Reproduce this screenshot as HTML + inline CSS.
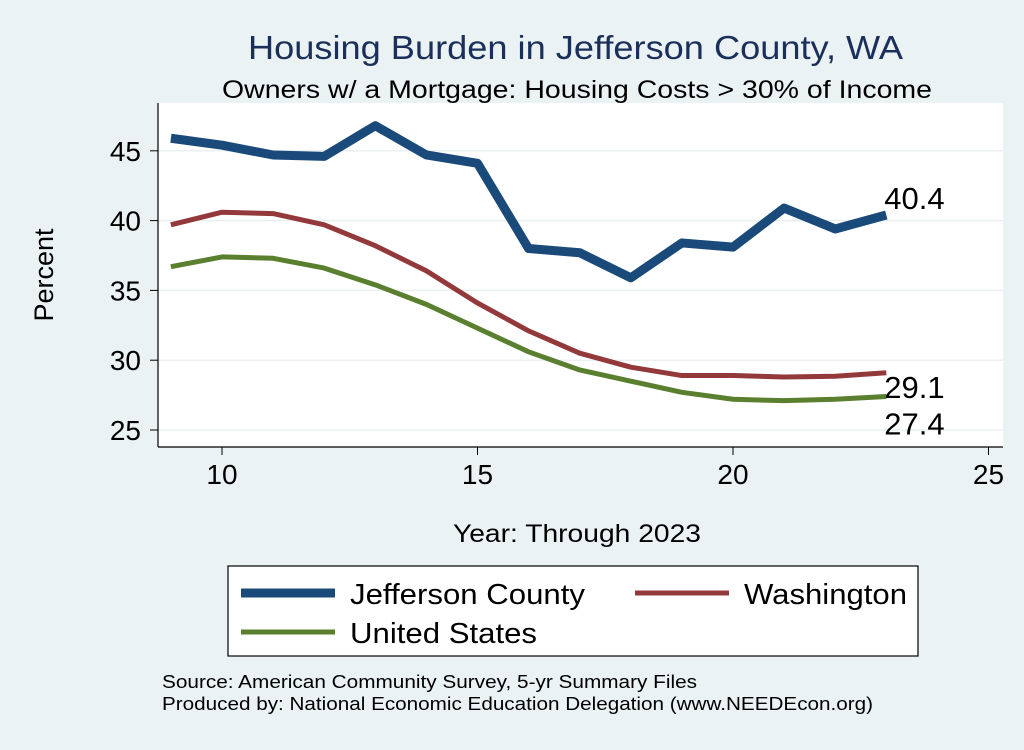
<!DOCTYPE html>
<html><head><meta charset="utf-8"><style>
body{margin:0;background:#eaf2f3;}
svg text{font-family:"Liberation Sans",Arial,sans-serif;}
</style></head><body>
<svg width="1024" height="745" viewBox="0 0 1024 745">
<rect width="1024" height="745" fill="#eaf2f3"/>
<text x="248" y="59" font-size="33" textLength="655" lengthAdjust="spacingAndGlyphs" fill="#1a2f5a">Housing Burden in Jefferson County, WA</text>
<text x="222" y="98" font-size="25" textLength="710" lengthAdjust="spacingAndGlyphs" fill="#000">Owners w/ a Mortgage: Housing Costs &gt; 30% of Income</text>
<rect x="158" y="103" width="845" height="344" fill="#fff"/>
<g id="grid"></g>
<line x1="158" y1="103" x2="158" y2="447" stroke="#000" stroke-width="1.2"/>
<line x1="158" y1="447" x2="1003" y2="447" stroke="#000" stroke-width="1.2"/>
<g id="ticks"></g>
<g id="series"></g>
<text x="53" y="275" text-anchor="middle" font-size="27" transform="rotate(-90 53 275)">Percent</text>
<text x="453" y="542" font-size="25" textLength="248" lengthAdjust="spacingAndGlyphs">Year: Through 2023</text>
<g>
<rect x="228" y="566" width="690" height="90" fill="#fff" stroke="#000" stroke-width="1.2"/>
<line x1="241" y1="593" x2="335" y2="593" stroke="#1a4a7a" stroke-width="9"/>
<text x="350" y="604" font-size="29" textLength="235" lengthAdjust="spacingAndGlyphs">Jefferson County</text>
<line x1="635" y1="593" x2="729" y2="593" stroke="#93393b" stroke-width="5"/>
<text x="744" y="604" font-size="29" textLength="163" lengthAdjust="spacingAndGlyphs">Washington</text>
<line x1="241" y1="632" x2="335" y2="632" stroke="#5a7f2e" stroke-width="5"/>
<text x="350" y="643" font-size="29" textLength="187" lengthAdjust="spacingAndGlyphs">United States</text>
</g>
<text x="162" y="688" font-size="18" textLength="535" lengthAdjust="spacingAndGlyphs">Source: American Community Survey, 5-yr Summary Files</text>
<text x="162" y="710" font-size="18" textLength="711" lengthAdjust="spacingAndGlyphs">Produced by: National Economic Education Delegation (www.NEEDEcon.org)</text>
</svg>
<script>
const years=[9,10,11,12,13,14,15,16,17,18,19,20,21,22,23];
const jefferson=[45.9,45.4,44.7,44.6,46.8,44.7,44.1,38.0,37.7,35.9,38.4,38.1,40.9,39.4,40.4];
const washington=[39.7,40.6,40.5,39.7,38.2,36.4,34.1,32.1,30.5,29.5,28.9,28.9,28.8,28.85,29.1];
const unitedStates=[36.7,37.4,37.3,36.6,35.4,34.0,32.3,30.6,29.3,28.5,27.7,27.2,27.1,27.2,27.4];
const xTicks=[10,15,20,25];
const yTicks=[25,30,35,40,45];
const xs=v=>222+(v-10)*51.1;
const ys=v=>430-(v-25)*13.96;
const NS="http://www.w3.org/2000/svg";
function mk(t,a,p){const e=document.createElementNS(NS,t);for(const k in a)e.setAttribute(k,a[k]);p.appendChild(e);return e;}
const grid=document.getElementById('grid'),ticks=document.getElementById('ticks'),ser=document.getElementById('series');
yTicks.forEach(v=>{
 const g=mk('line',{x1:158,x2:1003,y1:ys(v),y2:ys(v),stroke:'#eaf0f0','stroke-width':1.5},grid);
 
 
 const t=mk('line',{x1:150,x2:158,y1:ys(v),y2:ys(v),stroke:'#000'},ticks);
 
 
 const l=mk('text',{x:141,y:ys(v)+10,'text-anchor':'end','font-size':28},ticks);l.textContent=v;
 
 
});
xTicks.forEach(v=>{
 const t=mk('line',{x1:xs(v),x2:xs(v),y1:447,y2:455,stroke:'#000'},ticks);
 
 
 const l=mk('text',{x:xs(v),y:484,'text-anchor':'middle','font-size':28},ticks);l.textContent=v;
 
 
});
function line(data,color,w,name,dy){
 const p=mk('polyline',{points:data.map((d,i)=>xs(years[i])+','+ys(d)).join(' '),fill:'none',stroke:color,'stroke-width':w,'stroke-linejoin':'round'},ser);
 
 
 const n=data.length-1;
 const t=mk('text',{x:xs(years[n])-2,y:ys(data[n])+dy,'font-size':31},ser);t.textContent=data[n].toFixed(1);
 
 
}
line(unitedStates,'#5a7f2e',5,'us-line',38);
line(washington,'#93393b',5,'washington-line',25);
line(jefferson,'#1a4a7a',9,'jefferson-line',-6);
</script>
</body></html>
